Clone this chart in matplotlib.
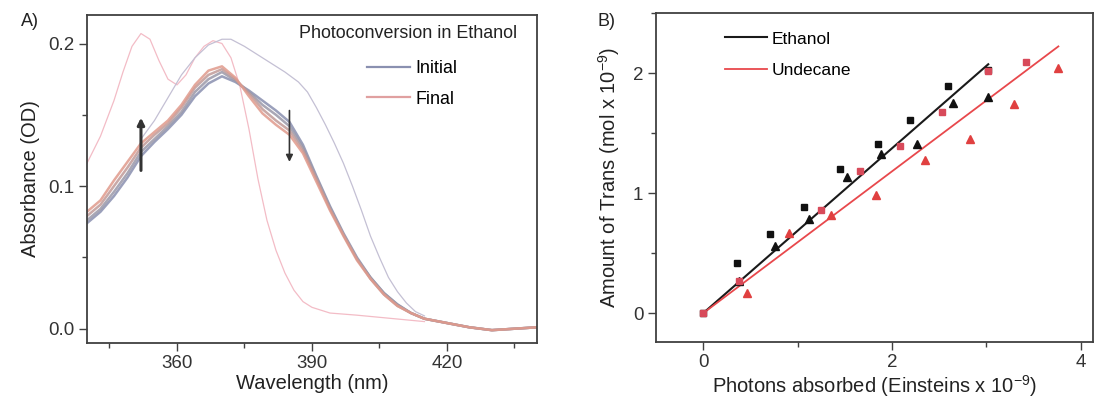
import matplotlib.pyplot as plt
from matplotlib.ticker import MultipleLocator, FormatStrFormatter

plt.rcParams['font.family'] = ['Liberation Sans', 'DejaVu Sans']
plt.rcParams['mathtext.default'] = 'regular'

# panel A: absorbance spectra during photoconversion in ethanol
wl = [340, 343, 346, 349, 352, 355, 358, 361, 364, 367, 370, 373, 376, 379, 382,
      385, 388, 391, 394, 397, 400, 403, 406, 409, 412, 415, 420, 425, 430, 435, 440]
abs_initial = [0.074, 0.082, 0.093, 0.106, 0.121, 0.131, 0.140, 0.150, 0.163, 0.172, 0.177,
               0.173, 0.167, 0.160, 0.153, 0.145, 0.129, 0.107, 0.086, 0.067, 0.050, 0.036,
               0.025, 0.017, 0.011, 0.007, 0.004, 0.001, -0.001, 0.000, 0.001]
abs_mid1 = [0.076, 0.084, 0.096, 0.109, 0.124, 0.133, 0.142, 0.152, 0.166, 0.175, 0.180,
            0.174, 0.166, 0.157, 0.150, 0.142, 0.127, 0.106, 0.085, 0.066, 0.049, 0.036,
            0.025, 0.017, 0.011, 0.007, 0.004, 0.001, -0.001, 0.000, 0.001]
abs_mid2 = [0.079, 0.087, 0.100, 0.113, 0.127, 0.136, 0.144, 0.155, 0.169, 0.178, 0.182,
            0.175, 0.165, 0.154, 0.146, 0.139, 0.125, 0.105, 0.084, 0.066, 0.049, 0.035,
            0.024, 0.016, 0.011, 0.007, 0.004, 0.001, -0.001, 0.000, 0.001]
abs_final = [0.082, 0.090, 0.104, 0.117, 0.130, 0.138, 0.146, 0.157, 0.171, 0.181, 0.184,
             0.176, 0.163, 0.151, 0.143, 0.136, 0.123, 0.103, 0.083, 0.065, 0.048, 0.035,
             0.024, 0.016, 0.011, 0.007, 0.004, 0.001, -0.001, 0.000, 0.001]
band = [abs_initial, abs_mid1, abs_mid2, abs_final]
band_colors = ['#8a90b0', '#9a98a8', '#c09a98', '#e09a8c']

# thin reference spectra
wl_pink = [340, 343, 346, 348, 350, 352, 354, 356, 358, 360, 362, 364, 366, 368, 370, 372,
           374, 376, 378, 380, 382, 384, 386, 388, 390, 394, 400, 405, 410, 415]
abs_pink = [0.116, 0.135, 0.160, 0.180, 0.198, 0.207, 0.203, 0.188, 0.175, 0.171, 0.178,
            0.190, 0.198, 0.202, 0.200, 0.190, 0.170, 0.140, 0.105, 0.076, 0.055, 0.039,
            0.027, 0.019, 0.015, 0.011, 0.0095, 0.008, 0.0065, 0.005]
wl_gray = [352, 355, 358, 361, 364, 367, 370, 372, 375, 378, 381, 384, 387, 389, 391, 393,
           395, 397, 399, 401, 403, 405, 407, 409, 411, 413, 415]
abs_gray = [0.133, 0.146, 0.162, 0.178, 0.190, 0.199, 0.203, 0.203, 0.198, 0.192, 0.186,
            0.180, 0.173, 0.166, 0.155, 0.143, 0.130, 0.116, 0.100, 0.083, 0.065, 0.050,
            0.036, 0.026, 0.018, 0.012, 0.009]

arrow_x = [352, 385]
arrow_from = [0.111, 0.153]
arrow_to = [0.148, 0.117]

# panel B: amount of trans vs photons absorbed
eth_sq_x = [0, 0.36, 0.705, 1.065, 1.453, 1.85, 2.194, 2.589, 3.02]
eth_sq_y = [0, 0.418, 0.663, 0.886, 1.204, 1.407, 1.61, 1.895, 2.03]
eth_tri_x = [0.377, 0.765, 1.118, 1.524, 1.88, 2.265, 2.652, 3.02]
eth_tri_y = [0.27, 0.557, 0.786, 1.137, 1.324, 1.407, 1.756, 1.80]
und_sq_x = [0, 0.377, 1.253, 1.658, 2.08, 2.529, 3.02, 3.42]
und_sq_y = [0, 0.27, 0.864, 1.184, 1.393, 1.677, 2.02, 2.095]
und_tri_x = [0.466, 0.906, 1.359, 1.835, 2.346, 2.822, 3.294, 3.763]
und_tri_y = [0.167, 0.669, 0.822, 0.989, 1.276, 1.455, 1.742, 2.04]
eth_fit_x = [0, 3.02]
eth_fit_y = [0, 2.075]
und_fit_x = [0, 3.763]
und_fit_y = [0, 2.224]

fig = plt.figure(figsize=(10.94, 3.99), dpi=100)
axA = fig.add_axes([0.0795, 0.1404, 0.4113, 0.822])
axB = fig.add_axes([0.5996, 0.1429, 0.3995, 0.8238])

for ax in (axA, axB):
    for s in ax.spines.values():
        s.set_color('#404040')
        s.set_linewidth(1.3)
    ax.tick_params(which='both', direction='out', color='#404040', labelsize=13.5,
                   labelcolor='#333333', width=1)
    ax.tick_params(which='major', length=5.5)
    ax.tick_params(which='minor', length=3.5)

# --- A ---
axA.plot(wl_pink, abs_pink, color='#f3bcc6', lw=0.9)
axA.plot(wl_gray, abs_gray, color='#c4c0d4', lw=0.9)
for spec, c in zip(band, band_colors):
    axA.plot(wl, spec, color=c, lw=1.8, alpha=0.85)
axA.plot([], [], color='#8a90b0', lw=1.6, label='Initial')
axA.plot([], [], color='#e0a0a0', lw=1.6, label='Final')
for x, y0, y1 in zip(arrow_x, arrow_from, arrow_to):
    lw = 2.2 if y1 > y0 else 1.2
    axA.annotate('', xy=(x, y1), xytext=(x, y0),
                 arrowprops=dict(arrowstyle='-|>', color='#333333', lw=lw,
                                 mutation_scale=10, shrinkA=0, shrinkB=0))
axA.set_xlim(340, 440)
axA.set_ylim(-0.01, 0.22)
axA.xaxis.set_minor_locator(MultipleLocator(15))
axA.set_xticks([360, 390, 420])
axA.yaxis.set_major_locator(MultipleLocator(0.1))
axA.yaxis.set_minor_locator(MultipleLocator(0.05))
axA.yaxis.set_major_formatter(FormatStrFormatter('%.1f'))
axA.set_xlabel('Wavelength (nm)', fontsize=14.5, color='#222222', labelpad=1)
axA.set_ylabel('Absorbance (OD)', fontsize=14.5, color='#222222', labelpad=6)
axA.text(0.713, 0.945, 'Photoconversion in Ethanol', transform=axA.transAxes,
         ha='center', va='center', fontsize=12.9, color='#222222')
axA.legend(loc='upper left', bbox_to_anchor=(0.622, 0.862), frameon=False,
           fontsize=12.9, handlelength=2.4, handletextpad=0.3, labelspacing=0.75,
           borderpad=0, borderaxespad=0)
fig.text(0.019, 0.935, 'A)', fontsize=13, color='#222222')

# --- B ---
axB.plot(eth_fit_x, eth_fit_y, color='#1a1a1a', lw=1.5, label='Ethanol', zorder=2)
axB.plot(und_fit_x, und_fit_y, color='#e8484c', lw=1.3, label='Undecane', zorder=2)
axB.plot(eth_sq_x, eth_sq_y, 's', color='#111111', ms=4.5, ls='none', zorder=3)
axB.plot(eth_tri_x, eth_tri_y, '^', color='#111111', ms=5.5, ls='none', zorder=3)
axB.plot(und_sq_x, und_sq_y, 's', color='#d84a5a', ms=4.5, ls='none', zorder=3)
axB.plot(und_tri_x, und_tri_y, '^', color='#e04040', ms=5.5, ls='none', zorder=3)
axB.set_xlim(-0.5, 4.13)
axB.set_ylim(-0.24, 2.5)
axB.xaxis.set_major_locator(MultipleLocator(2))
axB.xaxis.set_minor_locator(MultipleLocator(1))
axB.yaxis.set_major_locator(MultipleLocator(1))
axB.yaxis.set_minor_locator(MultipleLocator(0.5))
axB.set_xlabel('Photons absorbed (Einsteins x 10$^{-9}$)', fontsize=14.5,
               color='#222222', labelpad=1)
axB.set_ylabel('Amount of Trans (mol x 10$^{-9}$)', fontsize=14.5,
               color='#222222', labelpad=8)
axB.legend(loc='upper left', bbox_to_anchor=(0.158, 0.945), frameon=False,
           fontsize=12.5, handlelength=2.4, handletextpad=0.3, labelspacing=0.92,
           borderpad=0, borderaxespad=0)
fig.text(0.546, 0.935, 'B)', fontsize=13, color='#222222')

fig.savefig('out.png', dpi=100)
